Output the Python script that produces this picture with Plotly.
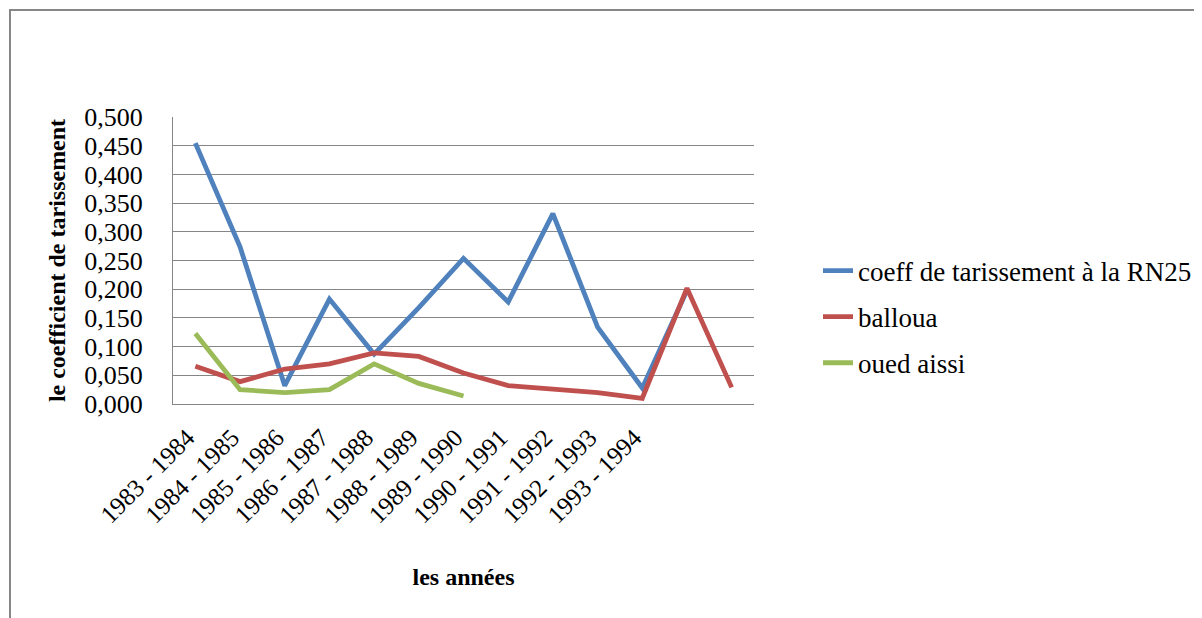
import plotly.graph_objects as go

categories = ["1983 - 1984", "1984 - 1985", "1985 - 1986", "1986 - 1987", "1987 - 1988",
              "1988 - 1989", "1989 - 1990", "1990 - 1991", "1991 - 1992", "1992 - 1993",
              "1993 - 1994", "", ""]
rn25 = [0.455, 0.274, 0.032, 0.183, 0.087, 0.168, 0.254, 0.178, 0.332, 0.134, 0.028, 0.198]
balloua = [0.066, 0.039, 0.061, 0.070, 0.089, 0.083, 0.054, 0.032, 0.026, 0.020, 0.010, 0.202, 0.029]
oued_aissi = [0.123, 0.025, 0.020, 0.025, 0.070, 0.036, 0.014]
y_ticks = [0.0, 0.05, 0.1, 0.15, 0.2, 0.25, 0.3, 0.35, 0.4, 0.45, 0.5]
y_ticktext = ["0,000", "0,050", "0,100", "0,150", "0,200", "0,250", "0,300", "0,350", "0,400", "0,450", "0,500"]

FONT = "Liberation Serif, Times New Roman, serif"
W, H = 1202, 618
OFF = 8  # page body margin
# target screen coordinates of plot area
SL, SR, ST, SB = 173, 754, 117, 404
L, T = SL - OFF, ST - OFF
R, B = W - (SR - OFF), H - (SB - OFF)
pw, ph = W - L - R, H - T - B

idx = list(range(len(categories)))

fig = go.Figure()
series = [("coeff de tarissement à la RN25", rn25, "#4F81BD"),
          ("balloua", balloua, "#C0504D"),
          ("oued aissi", oued_aissi, "#9BBB59")]
for i, (name, vals, col) in enumerate(series):
    fig.add_trace(go.Scatter(x=idx[:len(vals)], y=vals, mode="lines", name=name,
                             legendgroup=str(i),
                             line=dict(color=col, width=4.8)))

def px_x(p):  # screen px -> paper
    return (p - OFF - L) / pw

def px_y(p):
    return (H - B - (p - OFF)) / ph

fig.update_layout(
    width=W, height=H,
    margin=dict(l=L, r=R, t=T, b=B),
    paper_bgcolor="white", plot_bgcolor="white",
    font=dict(family=FONT, size=26, color="black"),
    showlegend=True,
    legend=dict(x=px_x(818), y=px_y(317), xanchor="left", yanchor="middle",
                font=dict(family=FONT, size=27, color="black"), tracegroupgap=8,
                bgcolor="rgba(0,0,0,0)"),
    xaxis=dict(range=[-0.5, len(categories) - 0.5], tickmode="array",
               tickvals=idx, ticktext=categories, tickangle=-45,
               tickfont=dict(family=FONT, size=25),
               ticklabelstandoff=8, ticklabelshift=-8,
               showgrid=False, showline=True, linecolor="#868686", linewidth=1,
               ticks="", zeroline=False,
               title=dict(text="<b>les années</b>", font=dict(family=FONT, size=24), standoff=40)),
    yaxis=dict(range=[0, 0.5005], tickmode="array", tickvals=y_ticks, ticktext=y_ticktext,
               tickfont=dict(family=FONT, size=26),
               showgrid=True, gridcolor="#868686", gridwidth=1,
               showline=True, linecolor="#868686", linewidth=1, zeroline=False,
               ticks="", ticklabelstandoff=24,
               title=dict(text="<b>le coefficient de tarissement</b>",
                          font=dict(family=FONT, size=24), standoff=11)),
)

fig.add_shape(type="rect", xref="paper", yref="paper",
              x0=px_x(10), x1=px_x(1215), y0=px_y(635), y1=px_y(10),
              line=dict(color="#878787", width=2), fillcolor="rgba(0,0,0,0)", layer="below")

fig.write_html("out.html")
